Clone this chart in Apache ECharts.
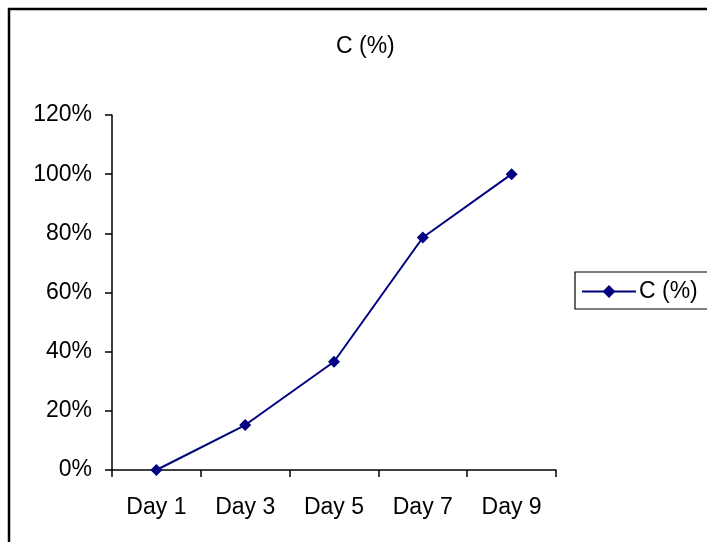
<!DOCTYPE html>
<html><head><meta charset="utf-8">
<script src="https://cdn.jsdelivr.net/npm/echarts@6/dist/echarts.min.js"></script>
<style>html,body{margin:0;padding:0;background:#fff}#c{width:707px;height:542px}</style>
</head><body><div id="c"></div>
<script>
const categories = ['Day 1', 'Day 3', 'Day 5', 'Day 7', 'Day 9'];
const values = [0, 15.2, 36.6, 78.6, 100];
const seriesName = 'C (%)';
const chartTitle = 'C (%)';

const chart = echarts.init(document.getElementById('c'));
const font = 'Liberation Sans, Arial, sans-serif';
const fs = 23;
chart.setOption({
  animation: false,
  backgroundColor: '#fff',
  graphic: [{
    type: 'rect', shape: { x: 9, y: 9, width: 800, height: 600 },
    style: { fill: 'none', stroke: '#000', lineWidth: 2.5 }, silent: true
  }],
  title: {
    text: chartTitle, left: 336, top: 35, padding: 0,
    textStyle: { fontFamily: font, fontSize: fs, fontWeight: 'normal', color: '#000' }
  },
  legend: {
    left: 575, top: 272, orient: 'vertical',
    borderColor: '#000', borderWidth: 1.2, borderRadius: 0,
    padding: [8, 10, 6, 6],
    itemWidth: 54, itemHeight: 16, itemGap: 4,
    textStyle: { fontFamily: font, fontSize: fs, color: '#000', padding: [0, 0, 0, -2] },
    data: [{ name: seriesName }]
  },
  grid: { left: 112, top: 115, right: 151, bottom: 72, containLabel: false },
  xAxis: {
    type: 'category', data: categories, boundaryGap: true,
    axisLine: { lineStyle: { color: '#000', width: 1.5 } },
    axisTick: { show: true, length: 7, alignWithLabel: false, lineStyle: { color: '#000', width: 1.5 } },
    axisLabel: { fontFamily: font, fontSize: fs, color: '#000', margin: 26 },
    splitLine: { show: false }
  },
  yAxis: {
    type: 'value', min: 0, max: 120, interval: 20,
    axisLine: { show: true, lineStyle: { color: '#000', width: 1.5 } },
    axisTick: { show: true, length: 7, lineStyle: { color: '#000', width: 1.5 } },
    axisLabel: { fontFamily: font, fontSize: fs, color: '#000', margin: 20, formatter: '{value}%' },
    splitLine: { show: false }
  },
  series: [{
    name: seriesName, type: 'line', data: values,
    symbol: 'diamond', symbolSize: 12,
    lineStyle: { color: '#000080', width: 2 },
    itemStyle: { color: '#000080' }
  }]
});
</script></body></html>
